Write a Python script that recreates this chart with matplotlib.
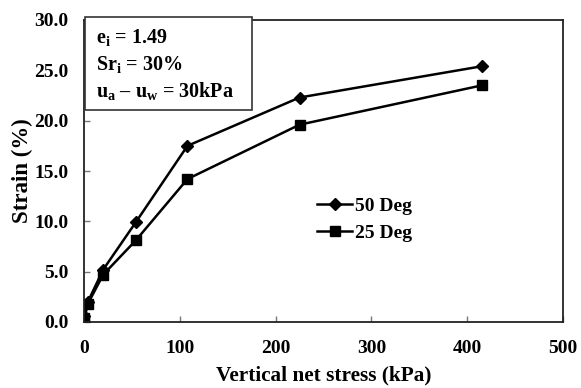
import matplotlib
matplotlib.use("Agg")
import matplotlib.pyplot as plt
from matplotlib.patches import Rectangle
from matplotlib.ticker import FormatStrFormatter

plt.rcParams['font.family'] = ['Liberation Serif', 'DejaVu Serif']
plt.rcParams['font.weight'] = 'bold'
plt.rcParams['mathtext.fontset'] = 'custom'
plt.rcParams['mathtext.rm'] = 'Liberation Serif:bold'
plt.rcParams['mathtext.it'] = 'Liberation Serif:bold'
plt.rcParams['mathtext.bf'] = 'Liberation Serif:bold'
plt.rcParams['mathtext.default'] = 'rm'

stress_50 = [0, 0.5, 4, 20, 54, 108, 225, 415]
strain_50 = [0, 0.6, 2.0, 5.2, 9.9, 17.5, 22.3, 25.4]
stress_25 = [0, 0.5, 4, 20, 54, 108, 225, 415]
strain_25 = [0, 0.4, 1.8, 4.7, 8.1, 14.2, 19.6, 23.5]
labels = ["50 Deg", "25 Deg"]
info_lines = [r"e$_{i}$ = 1.49", r"Sr$_{i}$ = 30%", r"u$_{a}$ – u$_{w}$ = 30kPa"]

W, H = 581, 388
fig = plt.figure(figsize=(W / 100, H / 100), dpi=100)
ax = fig.add_axes([84 / W, 1 - 322 / H, (563 - 84) / W, (322 - 20) / H])

ax.plot(stress_50, strain_50, color='black', lw=1.8, marker='D', ms=6.5, label=labels[0])
ax.plot(stress_25, strain_25, color='black', lw=1.8, marker='s', ms=7, label=labels[1])

ax.set_xlim(0, 500)
ax.set_ylim(0, 30)
ax.set_xticks(range(0, 501, 100))
ax.set_yticks(range(0, 31, 5))
ax.yaxis.set_major_formatter(FormatStrFormatter('%.1f'))
ax.tick_params(direction='in', length=4, width=1, color='#777777', labelsize=14)
ax.tick_params(axis='y', pad=11)
ax.tick_params(axis='x', pad=13)
for lab in ax.get_xticklabels() + ax.get_yticklabels():
    lab.set_fontweight('bold')
for s in ax.spines.values():
    s.set_linewidth(1.3)
    s.set_color('#222222')

ax.set_xlabel("Vertical net stress (kPa)", fontsize=15.3, fontweight='bold', labelpad=6)
ax.set_ylabel("Strain (%)", fontsize=16.5, fontweight='bold', labelpad=1)

leg = ax.legend(loc='upper left', bbox_to_anchor=(317 / W, 1 - 197 / H),
                bbox_transform=fig.transFigure, frameon=False, fontsize=14,
                handlelength=1.8, handletextpad=0.15, labelspacing=0.5, borderaxespad=0,
                borderpad=0)

# info box
rect = Rectangle((85 / W, 1 - 110 / H), (252 - 85) / W, (110 - 17) / H,
                 transform=fig.transFigure, facecolor='white', edgecolor='#333333',
                 lw=1.2, zorder=5)
fig.patches.append(rect)
ys = [43, 70, 97]
for t, y in zip(info_lines, ys):
    fig.text(96 / W, 1 - y / H, t, fontsize=14.5, fontweight='bold', zorder=6,
             va='baseline', ha='left')

fig.savefig("out.png", dpi=100)
